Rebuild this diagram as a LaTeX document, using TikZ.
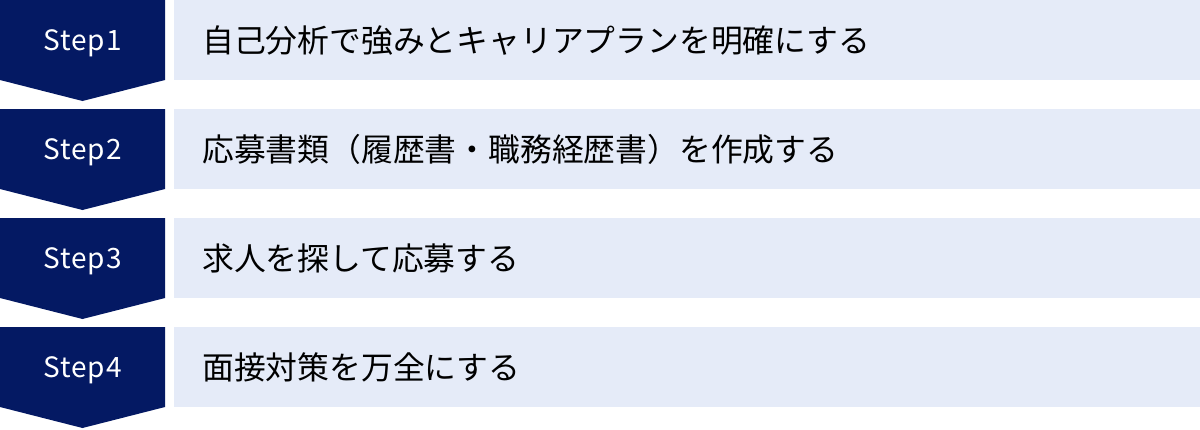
\documentclass[tikz,border=0pt]{standalone}
\usepackage{fontspec}
\newfontfamily\jpfont{Noto Sans CJK JP}
\newfontfamily\stepfont[LetterSpace=4]{Noto Sans CJK JP}
\definecolor{navy}{RGB}{4,25,99}
\definecolor{pale}{RGB}{229,235,248}
\tikzset{
  stepshape/.style={fill=navy,draw=none},
  steplabel/.style={text=white,inner sep=0pt,font=\stepfont\fontsize{28}{28}\selectfont},
  bar/.style={fill=pale,draw=none,minimum width=1026pt,minimum height=80pt,anchor=north west,inner sep=0pt},
  bartext/.style={inner sep=0pt,anchor=west,font=\jpfont\fontsize{31.8}{32}\selectfont}
}
\begin{document}
\begin{tikzpicture}[x=1pt,y=-1pt]
\useasboundingbox (0,0) rectangle (1200,429);
\foreach \i/\txt in {1/自己分析で強みとキャリアプランを明確にする,2/応募書類（履歴書・職務経歴書）を作成する,3/求人を探して応募する,4/面接対策を万全にする}{
  \pgfmathsetmacro\rowy{(\i-1)*109}
  % chevron on the left
  \draw[stepshape] (0,\rowy)--(165,\rowy)--(165,\rowy+80)--(82.5,\rowy+101)--(0,\rowy+80)--cycle;
  \node[steplabel] (step\i) at (82.5,\rowy+43) {Step\i};
  % text bar
  \node[bar] (bar\i) at (174,\rowy) {};
  \node[bartext] (text\i) at ([xshift=28pt]bar\i.west) {\txt};
}
\end{tikzpicture}
\end{document}
